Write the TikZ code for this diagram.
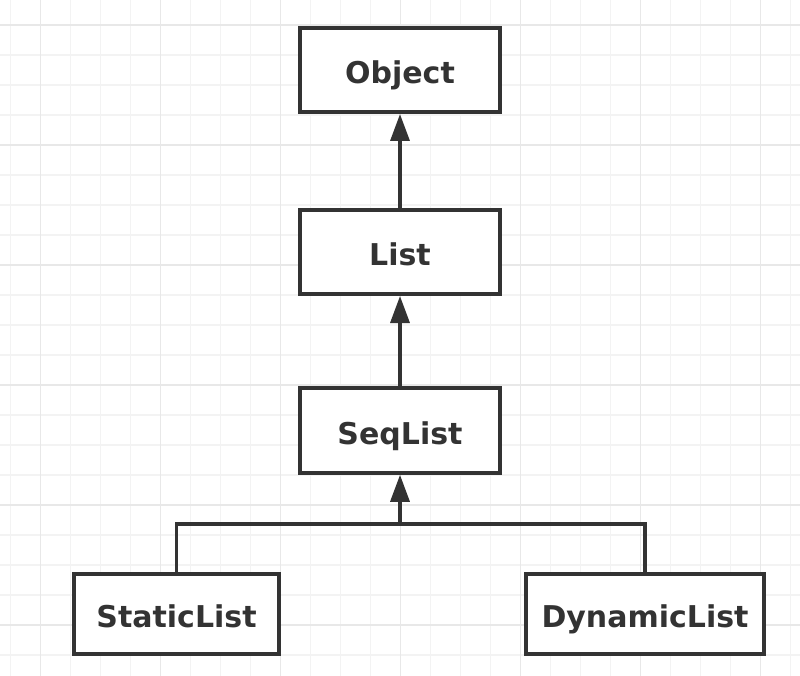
\documentclass[tikz,border=0pt]{standalone}
\usepackage{fontspec}
\setmainfont{DejaVu Sans}
\usetikzlibrary{arrows.meta}
\definecolor{ink}{HTML}{333333}
\definecolor{gridminor}{HTML}{F3F3F3}
\definecolor{gridmajor}{HTML}{E8E8E8}
\tikzset{
  classbox/.style={draw=ink, line width=3.6pt, fill=white, text=ink,
    font=\fontsize{30}{34}\selectfont\bfseries, inner sep=0pt,
    text height=27pt, text depth=0pt},
  conn/.style={draw=ink, line width=3.4pt},
  inherit/.style={conn, -{Triangle[length=27pt,width=19pt]}},
}
\begin{document}
\begin{tikzpicture}[x=1pt,y=-1pt]
\useasboundingbox (0,0) rectangle (800,676);
\fill[white] (0,0) rectangle (800,676);
% grid minor
\foreach \x in {10.7,40.7,...,800} \draw[gridminor, line width=1.2pt] (\x,0) -- (\x,676);
\foreach \y in {-5,25,...,680} \draw[gridminor, line width=1.2pt] (0,\y) -- (800,\y);
% grid major
\foreach \x in {40.7,160.7,...,800} \draw[gridmajor, line width=1.4pt] (\x,0) -- (\x,676);
\foreach \y in {25,145,...,680} \draw[gridmajor, line width=1.4pt] (0,\y) -- (800,\y);

\node[classbox, minimum width=200.4pt, minimum height=84.4pt] (object) at (400,70) {Object};
\node[classbox, minimum width=200.4pt, minimum height=84.4pt] (list) at (400,252) {List};
\node[classbox, minimum width=200.4pt, minimum height=85pt] (seq) at (400,430.5) {SeqList};
\node[classbox, minimum width=205.4pt, minimum height=80.4pt] (static) at (176.5,614) {StaticList};
\node[classbox, minimum width=238.4pt, minimum height=80.4pt] (dynamic) at (645,614) {DynamicList};

\coordinate (join) at (400,524);
\draw[inherit] (list.north) -- (object.south);
\draw[inherit] (seq.north) -- (list.south);
\draw[conn] (static.north) |- (join) -| (dynamic.north);
\draw[inherit] (join) -- (seq.south);
\end{tikzpicture}
\end{document}
